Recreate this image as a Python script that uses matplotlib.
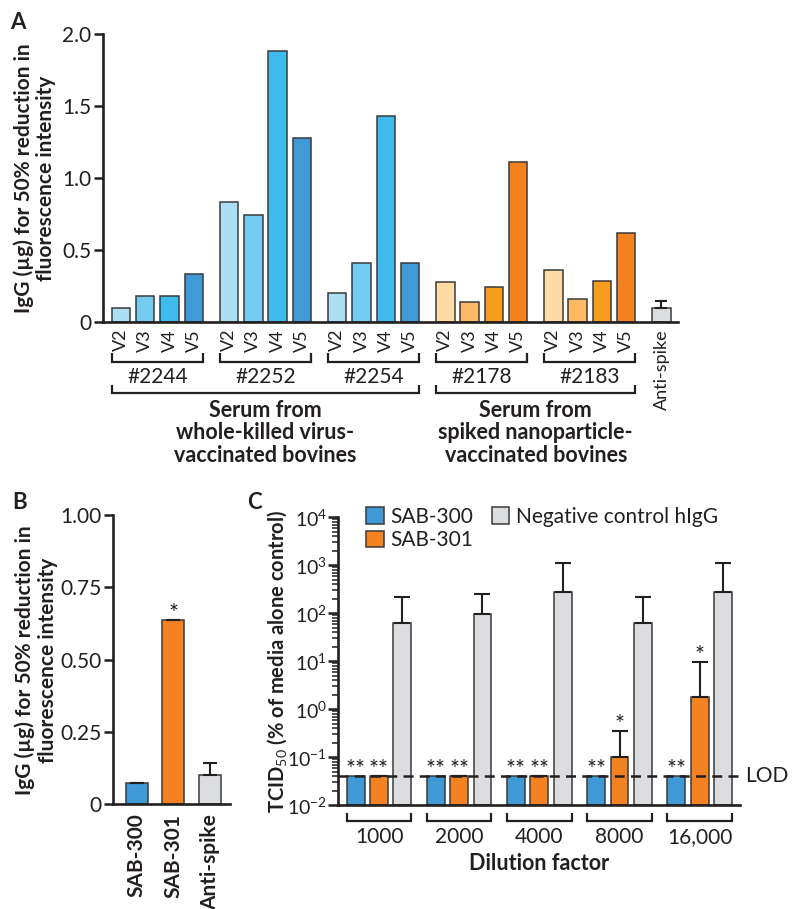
import matplotlib
matplotlib.use('Agg')
import matplotlib.pyplot as plt
from matplotlib.transforms import blended_transform_factory
from matplotlib.patches import Patch
import numpy as np

plt.rcParams['font.family'] = ['Lato', 'DejaVu Sans']
plt.rcParams['mathtext.fontset'] = 'custom'
plt.rcParams['mathtext.rm'] = 'Lato'
plt.rcParams['mathtext.bf'] = 'Lato:bold'
plt.rcParams['mathtext.it'] = 'Lato:italic'
plt.rcParams['text.color'] = '#231f20'
plt.rcParams['axes.labelcolor'] = '#231f20'
plt.rcParams['xtick.color'] = '#231f20'
plt.rcParams['ytick.color'] = '#231f20'

# ---------------- data ----------------
# Panel A
animals = ['#2244', '#2252', '#2254', '#2178', '#2183']
visits = ['V2', 'V3', 'V4', 'V5']
a_2244 = [0.10, 0.18, 0.18, 0.33]
a_2252 = [0.83, 0.74, 1.88, 1.28]
a_2254 = [0.20, 0.41, 1.43, 0.41]
a_2178 = [0.28, 0.14, 0.245, 1.11]
a_2183 = [0.36, 0.16, 0.285, 0.62]
a_anti_spike = 0.10
a_anti_spike_err = 0.046
a_ticks = [0, 0.5, 1.0, 1.5, 2.0]
a_ticklabels = ['0', '0.5', '1.0', '1.5', '2.0']
group_titles = ['Serum from\nwhole-killed virus-\nvaccinated bovines',
                'Serum from\nspiked nanoparticle-\nvaccinated bovines']

# Panel B
b_labels = ['SAB-300', 'SAB-301', 'Anti-spike']
b_values = [0.074, 0.636, 0.10]
b_err = [0, 0, 0.043]
b_ticks = [0, 0.25, 0.50, 0.75, 1.00]
b_ticklabels = ['0', '0.25', '0.50', '0.75', '1.00']

# Panel C
dilutions = ['1000', '2000', '4000', '8000', '16,000']
c_sab300 = [0.04, 0.04, 0.04, 0.04, 0.04]
c_sab301 = [0.04, 0.04, 0.04, 0.10, 1.8]
c_sab301_err = [0, 0, 0, 0.25, 7.7]
c_neg = [62, 98, 274, 62, 274]
c_neg_err = [153, 151, 859, 153, 859]
c_stars300 = ['**', '**', '**', '**', '**']
c_stars301 = ['**', '**', '**', '*', '*']
lod = 0.04
c_ticks = [1e-2, 1e-1, 1e0, 1e1, 1e2, 1e3, 1e4]
c_ticklabels = ['10$^{-2}$', '10$^{-1}$', '10$^{0}$', '10$^{1}$', '10$^{2}$', '10$^{3}$', '10$^{4}$']

# ---------------- style ----------------
TXT = '#231f20'
EDGE = '#3a3a3a'
BLUES = ['#acdff3', '#74cdf1', '#3ebaeb', '#3f9ad5']
ORANGES = ['#fedaa4', '#fdb964', '#f69c1f', '#f58220']
BLUE = '#3f99d4'
ORANGE = '#f58220'
GRAY = '#dcdde0'

FS = 15        # general text
FS_SMALL = 13  # V labels / Anti-spike
FS_STAR = 17

W, H = 810, 909
fig = plt.figure(figsize=(W / 100, H / 100), dpi=100)


def fx(px):
    return px / W


def fy(py):
    return 1 - py / H


def style_axes(ax):
    for s in ['top', 'right']:
        ax.spines[s].set_visible(False)
    for s in ['left', 'bottom']:
        ax.spines[s].set_linewidth(1.9)
        ax.spines[s].set_color(TXT)


def bracket(ax, trans, x0, x1, ytop, ybot):
    ax.plot([x0, x0, x1, x1], [fy(ytop), fy(ybot), fy(ybot), fy(ytop)],
            transform=trans, color=TXT, lw=1.6, clip_on=False,
            solid_joinstyle='miter', solid_capstyle='butt')


# ---------------- Panel A ----------------
axA = fig.add_axes([fx(103), fy(322), fx(678) - fx(103), (322 - 34) / H])
style_axes(axA)
gapA = 4.45
wA = 0.76
seriesA = [a_2244, a_2252, a_2254, a_2178, a_2183]
posA = [[g * gapA + j for j in range(len(visits))] for g in range(len(animals))]
for g, vals in enumerate(seriesA):
    cols = BLUES if g < 3 else ORANGES
    axA.bar(posA[g], vals, width=wA, color=cols, edgecolor=EDGE, linewidth=1.1, zorder=2)
anti_pos = len(animals) * gapA
axA.bar([anti_pos], [a_anti_spike], width=wA, color=GRAY, edgecolor=EDGE, linewidth=1.1, zorder=2)
axA.errorbar([anti_pos], [a_anti_spike], yerr=[[0], [a_anti_spike_err]], fmt='none',
             ecolor=TXT, elinewidth=1.5, capsize=4, capthick=1.5, zorder=3)
axA.set_xlim(-0.74, 22.93)
axA.set_ylim(0, 2.0)
axA.set_yticks(a_ticks)
axA.set_yticklabels(a_ticklabels)
axA.tick_params(axis='y', direction='out', length=6.5, width=1.8, labelsize=FS, pad=2)
xt = [p for grp in posA for p in grp] + [anti_pos]
xl = visits * len(animals) + ['Anti-spike']
axA.set_xticks(xt)
axA.set_xticklabels(xl, rotation=90, fontsize=FS_SMALL)
axA.tick_params(axis='x', length=0, pad=5)

transA = blended_transform_factory(axA.transData, fig.transFigure)
for g, name in enumerate(animals):
    x0 = posA[g][0] - wA / 2
    x1 = posA[g][-1] + wA / 2
    bracket(axA, transA, x0, x1, 353, 361.5)
    axA.text((x0 + x1) / 2, fy(377), name, transform=transA, ha='center', va='center', fontsize=FS)
for gi, (ga, gb) in enumerate([(0, 2), (3, 4)]):
    x0 = posA[ga][0] - wA / 2
    x1 = posA[gb][-1] + wA / 2
    bracket(axA, transA, x0, x1, 385, 393)
    axA.text((x0 + x1) / 2, fy(433), group_titles[gi], transform=transA, ha='center', va='center',
             fontsize=FS + 0.5, fontweight='bold', linespacing=1.08, multialignment='center')

fig.text(fx(35), fy(178), 'IgG (µg) for 50% reduction in\nfluorescence intensity', rotation=90,
         ha='center', va='center', fontsize=FS, fontweight='bold', linespacing=1.15,
         multialignment='center')
fig.text(fx(10), fy(12), 'A', ha='left', va='top', fontsize=16, fontweight='bold')

# ---------------- Panel B ----------------
axB = fig.add_axes([fx(113), fy(804), (230 - 113) / W, (804 - 515) / H])
style_axes(axB)
posB = np.arange(len(b_labels))
axB.bar(posB, b_values, width=0.6, color=[BLUE, ORANGE, GRAY], edgecolor=EDGE, linewidth=1.1, zorder=2)
axB.errorbar(posB, b_values, yerr=[np.zeros(len(b_err)), b_err], fmt='none', ecolor=TXT,
             elinewidth=1.5, capsize=5, capthick=1.5, zorder=3)
axB.annotate('*', (posB[1], b_values[1]), xytext=(0, 0), textcoords='offset points',
             ha='center', va='baseline', fontsize=FS_STAR)
axB.set_xlim(-0.66, 2.56)
axB.set_ylim(0, 1.0)
axB.set_yticks(b_ticks)
axB.set_yticklabels(b_ticklabels)
axB.tick_params(axis='y', direction='out', length=6.5, width=1.8, labelsize=FS, pad=2)
axB.set_xticks(posB)
axB.set_xticklabels(b_labels, rotation=90, fontsize=FS, fontweight='bold')
axB.tick_params(axis='x', length=0, pad=7)
fig.text(fx(36), fy(660), 'IgG (µg) for 50% reduction in\nfluorescence intensity', rotation=90,
         ha='center', va='center', fontsize=FS, fontweight='bold', linespacing=1.2,
         multialignment='center')
fig.text(fx(12), fy(492), 'B', ha='left', va='top', fontsize=16, fontweight='bold')

# ---------------- Panel C ----------------
ymin = 1e-2
axC = fig.add_axes([fx(338), fy(805.3), (740 - 338) / W, (805.3 - 517.3) / H])
style_axes(axC)
axC.set_yscale('log')
gapC = 3.44
wC = 0.77
posC = np.array([[g * gapC + j for j in range(3)] for g in range(len(dilutions))])
for k, (vals, col) in enumerate([(c_sab300, BLUE), (c_sab301, ORANGE), (c_neg, GRAY)]):
    axC.bar(posC[:, k], np.array(vals) - ymin, bottom=ymin, width=wC, color=col,
            edgecolor=EDGE, linewidth=1.1, zorder=2)
axC.errorbar(posC[:, 1], c_sab301, yerr=[np.zeros(5), c_sab301_err], fmt='none', ecolor=TXT,
             elinewidth=1.5, capsize=5.5, capthick=1.5, zorder=3)
axC.errorbar(posC[:, 2], c_neg, yerr=[np.zeros(5), c_neg_err], fmt='none', ecolor=TXT,
             elinewidth=1.5, capsize=5.5, capthick=1.5, zorder=3)
for g in range(len(dilutions)):
    axC.annotate(c_stars300[g], (posC[g, 0], c_sab300[g]), xytext=(0, 0), textcoords='offset points',
                 ha='center', va='baseline', fontsize=FS_STAR)
    top301 = c_sab301[g] + c_sab301_err[g]
    axC.annotate(c_stars301[g], (posC[g, 1], top301), xytext=(0, 0), textcoords='offset points',
                 ha='center', va='baseline', fontsize=FS_STAR)
axC.axhline(lod, color=TXT, lw=1.8, ls=(0, (4, 2.5)), zorder=4, clip_on=False)
transCy = blended_transform_factory(fig.transFigure, axC.transData)
axC.text(fx(745), lod, 'LOD', transform=transCy, ha='left', va='center', fontsize=FS)
axC.set_xlim(-0.76, 16.49)
axC.set_ylim(1e-2, 1e4)
axC.set_xticks([])
axC.set_yticks(c_ticks)
axC.set_yticklabels(c_ticklabels)
axC.tick_params(axis='y', which='major', direction='out', length=7, width=1.8, labelsize=14, pad=1)
axC.tick_params(axis='y', which='minor', direction='out', length=4, width=1.1)
transC = blended_transform_factory(axC.transData, fig.transFigure)
for g, name in enumerate(dilutions):
    x0 = posC[g, 0] - wC / 2
    x1 = posC[g, -1] + wC / 2
    bracket(axC, transC, x0, x1, 813, 821)
    axC.text((x0 + x1) / 2, fy(837), name, transform=transC, ha='center', va='center', fontsize=FS)
fig.text(fx(539), fy(864), 'Dilution factor', ha='center', va='center', fontsize=FS + 0.5, fontweight='bold')
fig.text(fx(277), fy(661), r'TCID$_{50}$ (% of media alone control)', rotation=90, ha='center',
         va='center', fontsize=14.5, fontweight='bold')
fig.text(fx(247), fy(492), 'C', ha='left', va='top', fontsize=16, fontweight='bold')

handles = [Patch(facecolor=BLUE, edgecolor=EDGE, linewidth=1.1, label='SAB-300'),
           Patch(facecolor=ORANGE, edgecolor=EDGE, linewidth=1.1, label='SAB-301'),
           Patch(facecolor=GRAY, edgecolor=EDGE, linewidth=1.1, label='Negative control hIgG')]
fig.legend(handles=handles, ncol=2, loc='upper left', bbox_to_anchor=(fx(366), fy(507)),
           bbox_transform=fig.transFigure, frameon=False, fontsize=FS, handlelength=0.85,
           handleheight=0.85, handletextpad=0.3, columnspacing=0.9, labelspacing=0.15,
           borderpad=0, borderaxespad=0)

fig.savefig('out.png', dpi=100)
